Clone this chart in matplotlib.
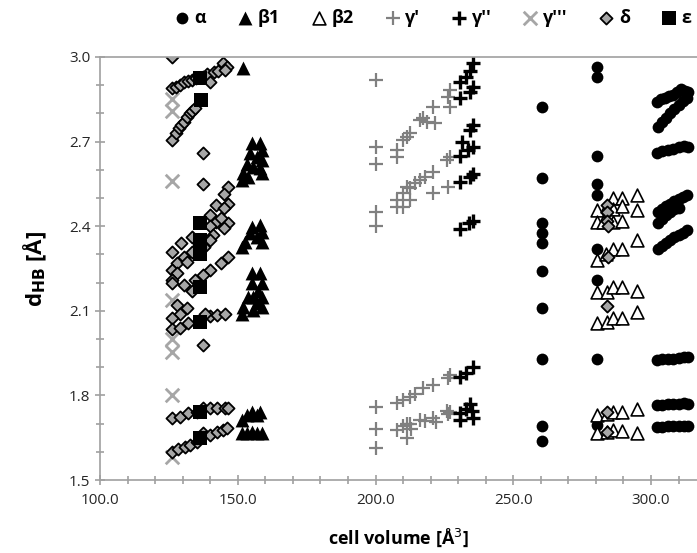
import matplotlib
matplotlib.use("Agg")
import matplotlib.pyplot as plt
from matplotlib.ticker import MultipleLocator, FormatStrFormatter

plt.rcParams['font.family'] = ['Open Sans', 'DejaVu Sans']

# alpha (black circles)
alpha_x = [260.3] * 10 + [280.4] * 9 + \
    [302.2, 303.5, 305.0, 306.5, 308.0, 309.5, 311.0, 312.5, 313.4] + \
    [302.5, 304.0, 305.5, 307.0, 308.5, 310.0, 311.5, 313.0] + \
    [302.2, 304.0, 306.0, 308.0, 310.0, 312.0, 313.4] + \
    [302.5, 304.0, 305.5, 307.0, 308.5, 310.0, 311.5, 313.0] + \
    [302.5, 304.0, 305.5, 307.0, 308.5, 310.0] + \
    [302.5, 304.0, 305.5, 307.0, 308.5, 310.0, 311.5, 313.0] + \
    [302.2, 304.0, 306.0, 308.0, 310.0, 312.0, 313.4] + \
    [302.2, 304.0, 306.0, 308.0, 310.0, 312.0, 313.4] + \
    [302.2, 304.0, 306.0, 308.0, 310.0, 312.0, 313.4]
alpha_y = [2.823, 2.57, 2.41, 2.376, 2.34, 2.24, 2.11, 1.93, 1.69, 1.64] + \
    [2.965, 2.93, 2.65, 2.55, 2.51, 2.32, 2.21, 1.93, 1.695] + \
    [2.84, 2.85, 2.855, 2.86, 2.865, 2.875, 2.885, 2.88, 2.875] + \
    [2.75, 2.77, 2.785, 2.80, 2.815, 2.83, 2.845, 2.855] + \
    [2.66, 2.665, 2.67, 2.675, 2.68, 2.685, 2.68] + \
    [2.45, 2.46, 2.47, 2.48, 2.49, 2.495, 2.505, 2.51] + \
    [2.41, 2.425, 2.44, 2.45, 2.46, 2.465] + \
    [2.32, 2.33, 2.34, 2.35, 2.36, 2.37, 2.375, 2.385] + \
    [1.925, 1.928, 1.93, 1.93, 1.932, 1.935, 1.936] + \
    [1.765, 1.766, 1.768, 1.768, 1.77, 1.772, 1.77] + \
    [1.688, 1.689, 1.69, 1.69, 1.691, 1.692, 1.69]

# beta1 (black filled triangles)
beta1_x = [151.9,
           151.5, 151.9, 153.4, 154.4, 155.2, 158.1, 158.8, 157.0, 158.8, 155.5, 158.1, 158.8, 153.6,
           151.5, 152.5, 154.4, 155.2, 158.1, 158.8, 157.0, 158.8,
           151.5, 151.9, 153.6, 155.2, 155.2, 158.1, 158.8, 157.3, 158.8, 157.0, 158.8, 155.5, 155.5,
           151.5, 153.4, 155.2, 158.1, 157.0,
           151.5, 153.4, 155.2, 157.0, 158.8]
beta1_y = [2.96,
           2.564, 2.59, 2.62, 2.66, 2.695, 2.695, 2.67, 2.646, 2.635, 2.61, 2.605, 2.59, 2.575,
           2.326, 2.344, 2.375, 2.397, 2.404, 2.38, 2.36, 2.344,
           2.09, 2.113, 2.15, 2.20, 2.234, 2.234, 2.20, 2.17, 2.15, 2.127, 2.113, 2.15, 2.103,
           1.713, 1.73, 1.74, 1.74, 1.73,
           1.667, 1.667, 1.67, 1.667, 1.667]

# beta2 (open triangles)
beta2_x = [286.2, 289.5, 294.9,
           280.4, 284.0, 286.2, 289.5, 294.9,
           280.4, 282.5, 286.2, 289.5,
           280.4, 283.5, 286.2, 289.5, 294.9,
           280.4, 284.0, 286.2, 289.5, 294.9,
           280.4, 284.0, 286.2, 289.5, 294.9,
           280.4, 284.0, 286.2, 289.5, 294.9,
           280.4, 284.0, 286.2, 289.5, 294.9]
beta2_y = [2.50, 2.50, 2.51,
           2.457, 2.47, 2.46, 2.47, 2.457,
           2.415, 2.415, 2.415, 2.42,
           2.28, 2.30, 2.32, 2.32, 2.35,
           2.167, 2.167, 2.185, 2.185, 2.17,
           2.057, 2.06, 2.075, 2.075, 2.096,
           1.73, 1.735, 1.74, 1.74, 1.75,
           1.667, 1.67, 1.677, 1.674, 1.667]

# gamma' (grey plus)
gamma1_x = [200.0] * 8 + \
    [207.8, 207.8, 210.0, 211.4, 212.5, 216.2, 217.2, 218.7, 220.9, 227.0, 227.0, 226.3, 221.6] + \
    [207.8, 207.8, 210.0, 211.4, 212.5, 214.3, 216.2, 218.0, 220.9, 220.9, 226.3, 227.0, 226.0, 212.5, 210.0] + \
    [207.8, 210.0, 212.5, 214.3, 217.2, 220.9, 226.3, 227.0] + \
    [207.8, 210.0, 211.4, 211.4, 212.5, 213.0, 216.2, 218.0, 220.9, 222.0, 226.3, 227.0, 226.0]
gamma1_y = [2.92, 2.68, 2.62, 2.45, 2.40, 1.76, 1.68, 1.615] + \
    [2.67, 2.645, 2.705, 2.716, 2.73, 2.777, 2.784, 2.77, 2.823, 2.823, 2.883, 2.858, 2.766] + \
    [2.493, 2.468, 2.518, 2.54, 2.535, 2.553, 2.564, 2.575, 2.592, 2.518, 2.54, 2.645, 2.635, 2.493, 2.468] + \
    [1.773, 1.785, 1.795, 1.805, 1.826, 1.837, 1.862, 1.872] + \
    [1.677, 1.69, 1.70, 1.65, 1.70, 1.68, 1.713, 1.71, 1.72, 1.705, 1.735, 1.74, 1.745]

# gamma'' (black plus)
gamma2_x = [235.4, 234.3, 230.7, 235.4, 234.3, 230.7, 233.0,
            235.4, 234.3, 231.5, 235.4, 230.7, 233.5,
            234.3, 230.7, 235.4,
            235.4, 230.7, 234.0,
            230.7, 235.4, 233.0,
            234.3, 235.4, 230.7, 230.7, 233.0, 235.0]
gamma2_y = [2.98, 2.95, 2.91, 2.895, 2.876, 2.855, 2.93,
            2.76, 2.74, 2.70, 2.68, 2.65, 2.67,
            2.575, 2.557, 2.585,
            2.42, 2.39, 2.41,
            1.865, 1.90, 1.88,
            1.77, 1.72, 1.713, 1.737, 1.75, 1.745]

# gamma''' (light grey cross)
gamma3_x = [126.1] * 8
gamma3_y = [2.85, 2.81, 2.56, 2.14, 2.00, 1.955, 1.80, 1.58]

# delta (grey diamonds)
delta_x = [126.2, 126.2, 127.6, 129.0, 130.5, 132.0, 133.5, 135.0, 137.5, 139.0, 140.0, 141.5, 143.0, 144.5, 146.0, 145.5,
           126.2, 127.5, 128.5, 129.5, 130.5, 131.5, 132.5, 133.5, 134.5,
           137.3, 137.3, 137.3,
           146.5, 145.0, 142.2, 146.5, 144.9, 140.0, 144.9, 142.2, 146.5, 144.9, 140.0, 133.3, 129.3, 126.1,
           141.1, 133.3, 130.6, 128.1, 126.1, 127.9, 131.6, 137.7, 140.0, 146.5, 143.8, 140.0, 137.3,
           134.4, 130.6, 126.1, 126.1, 127.9, 129.0, 126.1, 131.6, 133.3, 126.1, 129.0, 131.9,
           140.0, 142.5, 145.4, 138.2, 143.8,
           126.1, 129.0, 131.9, 135.1, 137.3, 140.0, 142.5, 145.4, 146.5,
           126.1, 128.3, 130.8, 132.6, 135.1, 137.3, 140.0, 142.5, 144.7, 146.1,
           284.0, 284.0, 284.0, 284.3, 284.3, 284.0, 284.0, 284.0]
delta_y = [2.89, 3.0, 2.895, 2.90, 2.91, 2.915, 2.92, 2.925, 2.93, 2.94, 2.91, 2.945, 2.95, 2.98, 2.965, 2.955,
           2.706, 2.73, 2.748, 2.76, 2.77, 2.787, 2.80, 2.81, 2.82,
           2.66, 2.55, 1.98,
           2.54, 2.514, 2.475, 2.48, 2.465, 2.44, 2.415, 2.415, 2.41, 2.394, 2.40, 2.36, 2.34, 2.31,
           2.37, 2.31, 2.29, 2.27, 2.245, 2.234, 2.273, 2.326, 2.35, 2.29, 2.27, 2.245, 2.227,
           2.21, 2.19, 2.21, 2.20, 2.12, 2.09, 2.075, 2.11, 2.17, 2.035, 2.04, 2.055,
           2.08, 2.085, 2.09, 2.09, 2.43,
           1.72, 1.724, 1.737, 1.74, 1.755, 1.755, 1.755, 1.755, 1.755,
           1.60, 1.61, 1.617, 1.624, 1.635, 1.667, 1.66, 1.67, 1.677, 1.684,
           2.475, 2.45, 2.42, 2.40, 2.29, 2.117, 1.74, 1.67]

# epsilon (black squares)
eps_x = [136.3, 136.8, 136.3, 136.3, 136.3, 136.3, 136.3, 136.3, 136.3]
eps_y = [2.925, 2.848, 2.41, 2.35, 2.30, 2.185, 2.06, 1.74, 1.65]

fig = plt.figure(figsize=(6.97, 5.53), dpi=100)
ax = fig.add_axes([0.1435, 0.132, 0.8565, 0.765])

ax.scatter(alpha_x, alpha_y, marker='o', s=72, c='black', linewidths=0, label='α')
ax.scatter(beta1_x, beta1_y, marker='^', s=100, c='black', linewidths=0, label='β1')
ax.scatter(beta2_x, beta2_y, marker='^', s=85, facecolors='white', edgecolors='black', linewidths=1.2, label='β2')
ax.scatter(gamma1_x, gamma1_y, marker='+', s=110, c='#808080', linewidths=1.6, label="γ'")
ax.scatter(gamma2_x, gamma2_y, marker='+', s=110, c='black', linewidths=2.4, label="γ''")
ax.scatter(gamma3_x, gamma3_y, marker='x', s=95, c='#a6a6a6', linewidths=2.0, label="γ'''")
ax.scatter(delta_x, delta_y, marker='D', s=38, facecolors='#a6a6a6', edgecolors='black', linewidths=1.3, label='δ')
ax.scatter(eps_x, eps_y, marker='s', s=100, c='black', linewidths=0, label='ε')

ax.set_xlim(100, 316.7)
ax.set_ylim(1.5, 3.0)
ax.xaxis.set_major_locator(MultipleLocator(50))
ax.xaxis.set_minor_locator(MultipleLocator(10))
ax.yaxis.set_major_locator(MultipleLocator(0.3))
ax.yaxis.set_minor_locator(MultipleLocator(0.1))
ax.xaxis.set_major_formatter(FormatStrFormatter('%.1f'))
ax.yaxis.set_major_formatter(FormatStrFormatter('%.1f'))

for side in ['left', 'bottom', 'top']:
    ax.spines[side].set_color('#a0a0a0')
    ax.spines[side].set_linewidth(1.2)
ax.spines['right'].set_visible(False)
ax.tick_params(which='both', direction='inout', color='#a0a0a0', width=1.2,
               labelsize=11, labelcolor='#262626', top=False, right=False)
ax.tick_params(which='major', length=7)
ax.tick_params(which='minor', length=6)
ax.tick_params(axis='x', pad=6)

ax.set_xlabel('cell volume [Å$^3$]', fontsize=13, fontweight='bold', labelpad=13)
ax.set_ylabel(r'd$_{\mathbf{HB}}$ [Å]', fontsize=16, fontweight='bold', labelpad=14)

fig.legend(loc='center', bbox_to_anchor=(0.618, 0.968), ncol=8, frameon=False,
           handletextpad=0.05, columnspacing=1.5, handlelength=1.3,
           prop={'weight': 'bold', 'size': 13})

fig.savefig('out.png', dpi=100)
